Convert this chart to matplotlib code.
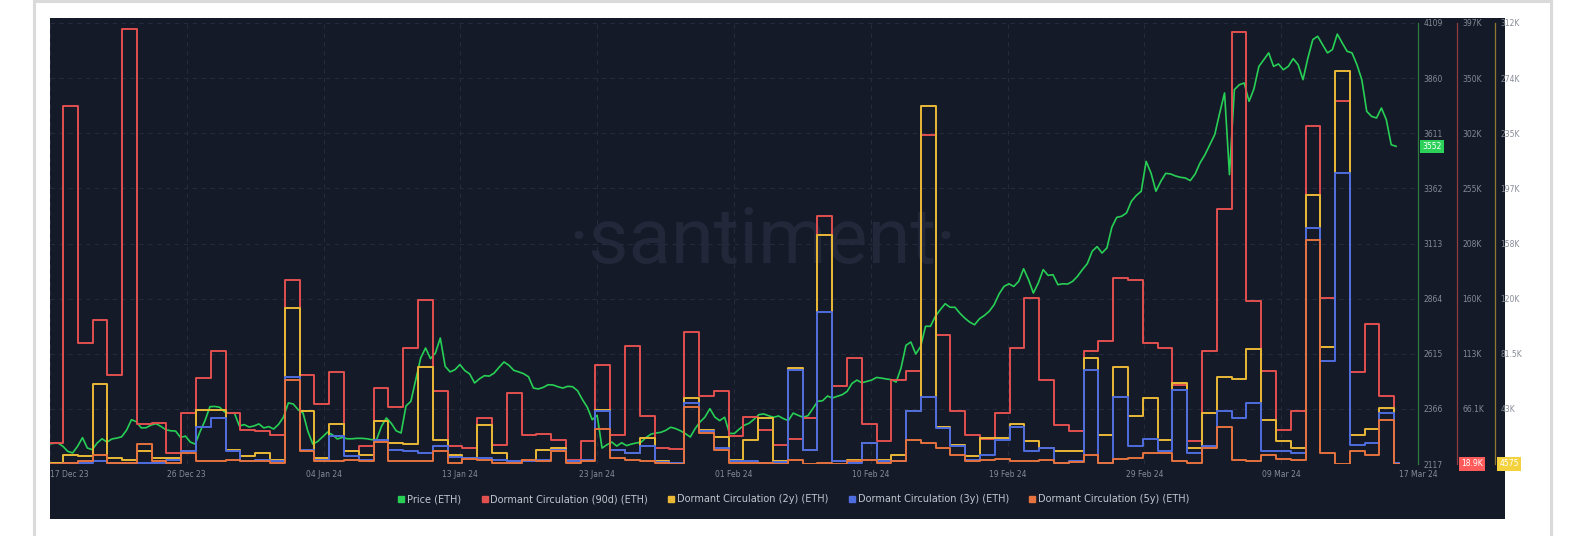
import numpy as np
import pandas as pd
import matplotlib
matplotlib.use("Agg")
import matplotlib.pyplot as plt
from matplotlib.patches import Rectangle
from matplotlib.lines import Line2D

# ETH price, sampled about every 8 hours from 17 Dec 2023
price = [
    2207, 2210, 2212, 2197, 2174, 2167, 2197, 2236, 2189, 2182,
    2212, 2231, 2216, 2230, 2234, 2240, 2270, 2317, 2308, 2280,
    2281, 2293, 2299, 2287, 2272, 2267, 2266, 2237, 2243, 2216,
    2207, 2264, 2313, 2376, 2377, 2373, 2352, 2347, 2347, 2289,
    2295, 2284, 2289, 2298, 2280, 2286, 2275, 2296, 2328, 2393,
    2388, 2362, 2347, 2264, 2207, 2219, 2240, 2261,
    2249, 2230, 2237, 2231, 2231, 2233, 2233, 2231, 2227, 2227,
    2287, 2325, 2301, 2267, 2257, 2379, 2400, 2498, 2596, 2641,
    2593, 2618, 2686, 2558, 2533, 2543, 2566, 2539, 2524, 2483,
    2502, 2516, 2514, 2528, 2554, 2578, 2563, 2540, 2533, 2525,
    2511, 2460, 2456, 2463, 2475, 2474, 2466, 2460, 2468, 2466,
    2448, 2408, 2373, 2317, 2337,
    2189, 2204, 2216, 2198, 2213, 2200, 2207, 2212, 2216, 2237,
    2252, 2257, 2260, 2269, 2283, 2277, 2267, 2254, 2239, 2277,
    2307, 2329, 2367, 2329, 2313, 2328, 2255, 2255, 2275, 2292,
    2301, 2319, 2340, 2343, 2335, 2328, 2334, 2322, 2313, 2347,
    2337, 2328, 2335, 2367, 2400, 2403, 2424, 2415, 2423, 2430,
    2445, 2481, 2496, 2484, 2490, 2496,
    2508, 2505, 2501, 2498, 2487, 2551, 2653, 2668, 2614, 2648,
    2739, 2739, 2784, 2814, 2841, 2825, 2825, 2798, 2776, 2758,
    2746, 2773, 2788, 2807, 2837, 2885, 2919, 2931, 2919, 2942,
    2999, 2950, 2889, 2935, 2995, 2969, 2972, 2927, 2931, 2930,
    2942, 2965, 2995, 3022, 3078, 3099, 3070, 3093, 3186, 3231,
    3236, 3251, 3304, 3330,
    3349, 3484, 3431, 3349, 3394, 3430, 3427, 3418, 3412, 3409,
    3397, 3427, 3477, 3514, 3559, 3605, 3702, 3793, 3424, 3808,
    3830, 3838, 3755, 3812, 3913, 3943, 3974, 3913, 3924, 3898,
    3913, 3948, 3921, 3853, 3951, 4034, 4049, 4011, 3974, 3989,
    4059, 4019, 3981, 3974, 3921, 3853, 3710, 3687, 3680, 3725,
    3672, 3559, 3552,
]
price_start = "2023-12-17 00:00"
price_end = "2024-03-17 03:00"

# daily dormant circulation, thousands of ETH, 17 Dec 2023 .. 17 Mar 2024
dc_90d = [
    37, 326, 122.5, 142, 95, 392, 53, 54, 28, 62.6, 93, 116, 62.6, 48, 47.5, 44, 177, 95, 70,
    97.7, 29.9, 34, 84, 68, 118, 159.5, 81.7, 34, 32.7, 58, 35.5, 79.7, 44, 45, 39.8, 22.7, 38.4, 104,
    44, 119.7, 59.8, 32.7, 31.5, 132, 77, 81.7, 42.7, 59, 48.3, 35.5, 40, 58, 231.7, 85.5, 109.7, 53,
    38.4, 91, 98.3, 300.7, 129.6, 64.6, 44, 40.6, 62.6, 118, 161, 91, 52, 47.5, 115.4, 124.5, 178, 177,
    122.5, 118, 87, 39, 115.4, 237.4, 389, 158.7, 98.8, 48.3, 64, 309, 161, 329.8, 98, 138.8, 77.4, 18.9,
]
dc_2y = [
    5.2, 11.0, 9.9, 60.2, 8.7, 7.6, 13.4, 8.7, 8.7, 13.4, 42.3, 42.3, 14.5, 9.9, 12.2, 7.6, 113.0, 41.2, 8.7,
    32.4, 13.4, 11.0, 34.7, 19.2, 18.5, 72.5, 21.5, 11.0, 8.7, 31.9, 12.2, 6.4, 7.6, 14.5, 15.7, 6.4, 7.6, 42.3,
    14.5, 12.2, 22.6, 6.4, 5.2, 50.4, 28.4, 23.1, 7.6, 21.5, 36.5, 6.4, 71.3, 14.5, 164.0, 6.4, 7.6, 19.2,
    7.6, 11.0, 41.2, 254.0, 30.7, 18.0, 9.9, 22.6, 23.0, 32.4, 20.3, 15.7, 13.4, 13.4, 78.3, 25.0, 72.5, 37.7,
    50.4, 21.5, 60.9, 15.7, 40.0, 65.5, 63.9, 84.8, 35.4, 20.8, 15.7, 192.3, 86.4, 278.8, 24.5, 29.1, 43.5, 4.575,
]
dc_3y = [
    4.6, 5.2, 5.2, 6.4, 5.2, 5.2, 5.2, 5.2, 7.6, 13.4, 30.7, 36.5, 13.4, 6.4, 7.6, 6.4, 65.5, 14.5, 7.6,
    23.8, 9.9, 7.6, 21.5, 14.5, 13.4, 12.2, 16.8, 9.2, 8.7, 8.7, 7.6, 6.4, 6.9, 7.6, 14.5, 6.4, 7.6, 41.2,
    14.5, 12.0, 16.8, 6.0, 5.2, 47.0, 27.3, 15.7, 6.4, 6.4, 5.2, 6.0, 70.2, 14.5, 110.7, 6.4, 5.2, 19.2,
    7.0, 6.4, 41.2, 51.6, 29.6, 16.8, 7.6, 11.0, 21.5, 30.7, 13.4, 15.7, 5.2, 6.4, 70.2, 5.2, 51.6, 16.8,
    22.2, 13.4, 56.2, 12.2, 16.8, 41.2, 36.5, 47.0, 13.4, 13.4, 12.2, 169.1, 76.4, 207.6, 18.0, 19.2, 40.0, 5.2,
]
dc_5y = [
    4.6, 5.2, 6.4, 11.0, 5.2, 5.2, 18.4, 6.4, 5.5, 12.0, 6.4, 6.4, 7.7, 6.4, 6.4, 5.5, 63.2, 13.5, 6.4,
    6.7, 7.7, 7.0, 20.2, 6.4, 6.4, 6.4, 13.5, 5.5, 8.0, 7.7, 5.2, 5.2, 7.4, 7.0, 13.5, 5.2, 6.4, 29.1,
    8.9, 7.4, 6.4, 5.2, 4.6, 44.5, 26.1, 14.0, 5.2, 5.2, 5.2, 4.6, 7.7, 4.6, 5.2, 4.6, 6.4, 7.7,
    5.2, 6.4, 21.5, 19.0, 15.6, 11.0, 7.0, 7.7, 8.3, 6.4, 6.4, 7.7, 5.0, 6.0, 10.7, 5.2, 8.3, 8.6,
    12.3, 12.3, 6.4, 5.2, 16.0, 30.7, 7.7, 6.4, 10.7, 8.3, 7.7, 160.7, 12.3, 4.6, 13.8, 10.7, 35.3, 4.6,
]
dc_end = "2024-03-17 08:00"

x_labels = ["17 Dec 23", "26 Dec 23", "04 Jan 24", "13 Jan 24", "23 Jan 24", "01 Feb 24",
            "10 Feb 24", "19 Feb 24", "29 Feb 24", "09 Mar 24", "17 Mar 24"]
price_range = (2117, 4109)
red_range = (18.9, 397)
red_labels = ["", "66.1K", "113K", "160K", "208K", "255K", "302K", "350K", "397K"]
yel_range = (4.575, 312)
yel_labels = ["", "43K", "81.5K", "120K", "158K", "197K", "235K", "274K", "312K"]
legend_labels = ["Price (ETH)", "Dormant Circulation (90d) (ETH)", "Dormant Circulation (2y) (ETH)",
                 "Dormant Circulation (3y) (ETH)", "Dormant Circulation (5y) (ETH)"]

GREEN, RED, YELLOW, BLUE, ORANGE = "#27cf55", "#e2504f", "#e9b936", "#4e6de0", "#e5733f"
BG = "#151a28"
TICK = "#868b97"

W, H = 1595, 536
fig = plt.figure(figsize=(W / 100, H / 100), dpi=100)
fig.patch.set_facecolor("white")
fig.add_artist(Rectangle((33.5 / W, -0.05), (1551 - 33.5) / W, 1.05 - 1.3 / H,
                         transform=fig.transFigure, fill=False, ec="#dadada", lw=2.2, zorder=-2))
fig.add_artist(Rectangle((50 / W, 17 / H), 1455 / W, 501 / H, transform=fig.transFigure,
                         fc=BG, ec="none", zorder=-1))

ax = fig.add_axes([50 / W, 72 / H, 1368 / W, 441 / H])
ax.set_facecolor("none")
ax_r = ax.twinx()
ax_y = ax.twinx()

price_t = pd.date_range(price_start, price_end, periods=len(price))
days = pd.date_range("2023-12-17", periods=len(dc_90d), freq="D")
step_x = list(days) + [pd.Timestamp(dc_end)]

def steps(a, vals, color):
    a.step(step_x, list(vals) + [vals[-1]], where="post", color=color, lw=1.4,
           solid_joinstyle="round")

ax.plot(price_t, price, color=GREEN, lw=1.2)
steps(ax_r, dc_90d, RED)
steps(ax_y, dc_2y, YELLOW)
steps(ax_y, dc_3y, BLUE)
steps(ax_y, dc_5y, ORANGE)

ax.set_xlim(pd.Timestamp("2023-12-17 03:00"), pd.Timestamp("2024-03-18 14:30"))
ax.set_ylim(*price_range)
ax_r.set_ylim(*red_range)
ax_y.set_ylim(*yel_range)

# watermark
ax.text(0.521, 0.456, "\u00b7santiment\u00b7", transform=ax.transAxes, ha="center", va="baseline",
        fontsize=56, family="Roboto", color="#222839", zorder=0)

# x axis
xt = np.linspace(*ax.get_xlim(), len(x_labels))
ax.set_xticks(xt)
ax.set_xticklabels(x_labels)
ax.get_xticklabels()[0].set_ha("left")
ax.tick_params(axis="x", length=0, pad=4, labelsize=5.5, labelcolor=TICK)

# grid from the price axis
ax.set_yticks(np.linspace(*price_range, 9))
ax.grid(True, color="#252b3c", ls=(0, (4, 4)), lw=0.8)
ax.set_axisbelow(True)

for a in (ax, ax_r, ax_y):
    for s in ("top", "bottom", "left"):
        a.spines[s].set_visible(False)
    a.tick_params(axis="y", length=0, pad=4, labelsize=5.5, labelcolor=TICK)

ax.yaxis.tick_right()
ax.spines["right"].set_color("#2c7c3f")
ax.spines["right"].set_linewidth(0.9)
ax_r.spines["right"].set_position(("axes", 1 + 39 / 1368))
ax_r.spines["right"].set_color("#8f3b3f")
ax_r.spines["right"].set_linewidth(0.9)
ax_y.spines["right"].set_position(("axes", 1 + 77 / 1368))
ax_y.spines["right"].set_color("#8f7a30")
ax_y.spines["right"].set_linewidth(0.9)

ax_r.set_yticks(np.linspace(*red_range, 9))
ax_r.set_yticklabels(red_labels)
ax_y.set_yticks(np.linspace(*yel_range, 9))
ax_y.set_yticklabels(yel_labels)

# last-value badges
def badge(a, xfrac, val, text, fc, tc="white"):
    a.annotate(text, xy=(xfrac, val), xycoords=("axes fraction", "data"), xytext=(3.2, 0),
               textcoords="offset points", ha="left", va="center", fontsize=5.5, color=tc,
               bbox=dict(boxstyle="square,pad=0.3", fc=fc, ec="none"), annotation_clip=False)

badge(ax, 1, price[-1], f"{price[-1]}", "#2bd159")
badge(ax_r, 1 + 39 / 1368, dc_90d[-1], f"{dc_90d[-1]:.1f}K", "#ff5b5b")
badge(ax_y, 1 + 77 / 1368, dc_2y[-1], f"{dc_2y[-1] * 1000:.0f}", "#f3d23e")

handles = [Line2D([], [], ls="none", marker="s", ms=4.8, color=c)
           for c in (GREEN, RED, YELLOW, BLUE, ORANGE)]
fig.legend(handles, legend_labels, loc="center", bbox_to_anchor=(793.5 / W, 37 / H), ncol=5,
           frameon=False, fontsize=7, labelcolor="#c3c7d0", handletextpad=0.2,
           columnspacing=2.0, handlelength=0.8)

fig.savefig("out.png", dpi=100, facecolor="white")
